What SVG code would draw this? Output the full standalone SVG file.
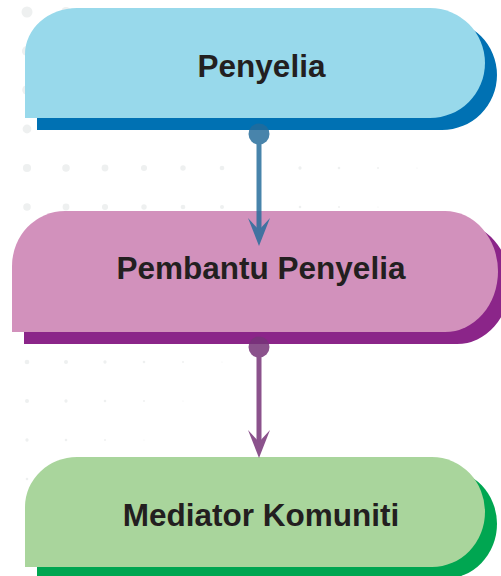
<svg xmlns="http://www.w3.org/2000/svg" width="501" height="576" viewBox="0 0 501 576">
  <style>
    .dot { fill: #EEF0F0; }
    .label { font-family: "Liberation Sans", Arial, sans-serif; font-weight: bold; font-size: 31.5px; fill: #231F20; text-anchor: middle; }
    .link { fill: none; stroke-width: 5; }
  </style>
  <defs>
    <marker id="arrowBlue" viewBox="0 0 28 22" refX="12" refY="11" markerWidth="28" markerHeight="22" markerUnits="userSpaceOnUse" orient="auto">
      <path d="M0,0 L28,11 L0,22 L12,11 Z" fill="#246C9B"/>
    </marker>
    <marker id="arrowPurple" viewBox="0 0 28 22" refX="12" refY="11" markerWidth="28" markerHeight="22" markerUnits="userSpaceOnUse" orient="auto">
      <path d="M0,0 L28,11 L0,22 L12,11 Z" fill="#773479"/>
    </marker>
  </defs>
  <rect width="501" height="576" fill="#FFFFFF"/>
  <g id="background-dots">
    <circle class="dot" cx="27" cy="12" r="5.5"/><circle class="dot" cx="66" cy="12" r="5.1"/>
    <circle class="dot" cx="27" cy="51" r="5.1"/><circle class="dot" cx="27" cy="90" r="4.8"/><circle class="dot" cx="27" cy="129" r="4.4"/>
    <circle class="dot" cx="27" cy="168" r="4.1"/><circle class="dot" cx="66" cy="168" r="3.75"/><circle class="dot" cx="105" cy="168" r="3.4"/><circle class="dot" cx="144" cy="168" r="3.05"/><circle class="dot" cx="183" cy="168" r="2.7"/><circle class="dot" cx="222" cy="168" r="2.35"/><circle class="dot" cx="300" cy="168" r="1.65"/><circle class="dot" cx="339" cy="168" r="1.3"/><circle class="dot" cx="378" cy="168" r="0.95"/><circle class="dot" cx="417" cy="168" r="0.6"/>
    <circle class="dot" cx="27" cy="207" r="3.75"/><circle class="dot" cx="66" cy="207" r="3.4"/><circle class="dot" cx="105" cy="207" r="3.05"/><circle class="dot" cx="144" cy="207" r="2.7"/><circle class="dot" cx="183" cy="207" r="2.35"/><circle class="dot" cx="222" cy="207" r="2"/><circle class="dot" cx="300" cy="207" r="1.3"/><circle class="dot" cx="339" cy="207" r="0.95"/><circle class="dot" cx="378" cy="207" r="0.6"/>
    <circle class="dot" cx="27" cy="362" r="2.35"/><circle class="dot" cx="66" cy="362" r="2"/><circle class="dot" cx="105" cy="362" r="1.65"/><circle class="dot" cx="144" cy="362" r="1.3"/><circle class="dot" cx="183" cy="362" r="0.95"/><circle class="dot" cx="222" cy="362" r="0.6"/>
    <circle class="dot" cx="27" cy="401" r="2"/><circle class="dot" cx="66" cy="401" r="1.65"/><circle class="dot" cx="105" cy="401" r="1.3"/><circle class="dot" cx="144" cy="401" r="0.95"/><circle class="dot" cx="183" cy="401" r="0.6"/>
    <circle class="dot" cx="27" cy="440" r="1.65"/><circle class="dot" cx="66" cy="440" r="1.3"/><circle class="dot" cx="105" cy="440" r="0.95"/><circle class="dot" cx="144" cy="440" r="0.6"/>
    <circle class="dot" cx="27" cy="479" r="1.3"/>
  </g>
  <g id="node-penyelia">
    <path d="M37,130 L37,82 A52,46 0 0 1 89,20 L442,20 A55,55 0 0 1 442,130 Z" fill="#0071B3"/>
    <path d="M25,118 L25,54 A52,46 0 0 1 77,8 L430,8 A55,55 0 0 1 430,118 Z" fill="#98D9EB"/>
    <text class="label" x="261.5" y="77">Penyelia</text>
  </g>
  <g id="node-pembantu-penyelia">
    <path d="M24,344 L24,278 A53,55 0 0 1 77,223 L457,223 A53,60.5 0 0 1 457,344 Z" fill="#8B2589"/>
    <path d="M12,332 L12,266 A53,55 0 0 1 65,211 L445,211 A53,60.5 0 0 1 445,332 Z" fill="#D291BC"/>
    <text class="label" x="261" y="279">Pembantu Penyelia</text>
  </g>
  <g id="node-mediator-komuniti">
    <path d="M37,579 L37,519 A52,50 0 0 1 89,469 L444,469 A53,55 0 0 1 444,579 Z" fill="#00A651"/>
    <path d="M25,567 L25,507 A52,50 0 0 1 77,457 L432,457 A53,55 0 0 1 432,567 Z" fill="#A9D59C"/>
    <text class="label" x="261" y="526">Mediator Komuniti</text>
  </g>
  <g id="connectors">
    <g opacity="0.83">
      <circle cx="259" cy="134" r="10.5" fill="#246C9B"/>
      <line class="link" x1="259" y1="134" x2="259" y2="230" stroke="#246C9B" marker-end="url(#arrowBlue)"/>
    </g>
    <g opacity="0.85">
      <circle cx="259" cy="347" r="10.5" fill="#773479"/>
      <line class="link" x1="259" y1="347" x2="259" y2="442" stroke="#773479" marker-end="url(#arrowPurple)"/>
    </g>
  </g>
</svg>
